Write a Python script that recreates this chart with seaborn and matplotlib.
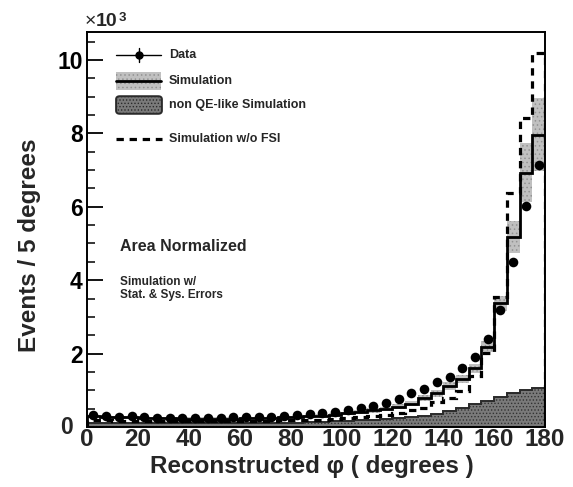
import numpy as np
import pandas as pd
import matplotlib
matplotlib.use('Agg')
import matplotlib.pyplot as plt
import seaborn as sns
from matplotlib.patches import Rectangle, FancyBboxPatch
from matplotlib.lines import Line2D
from matplotlib.ticker import MultipleLocator
from matplotlib.transforms import blended_transform_factory

# ---- data (in units of 10^3 events) ----
bin_edges = list(range(0, 185, 5))
data_vals = [0.33, 0.31, 0.27, 0.30, 0.27, 0.25, 0.25, 0.25, 0.25, 0.24, 0.24, 0.26,
             0.27, 0.28, 0.28, 0.31, 0.33, 0.35, 0.37, 0.42, 0.47, 0.52, 0.57, 0.66,
             0.77, 0.92, 1.03, 1.22, 1.35, 1.62, 1.92, 2.40, 3.19, 4.50, 6.02, 7.14]
sim_vals = [0.30, 0.28, 0.26, 0.26, 0.25, 0.24, 0.24, 0.23, 0.23, 0.23, 0.23, 0.23,
            0.24, 0.24, 0.25, 0.26, 0.27, 0.29, 0.31, 0.34, 0.37, 0.41, 0.45, 0.49,
            0.55, 0.64, 0.78, 0.92, 1.12, 1.30, 1.60, 2.19, 3.37, 5.17, 6.93, 7.96]
sim_errs = [0.03, 0.03, 0.03, 0.03, 0.03, 0.03, 0.03, 0.03, 0.03, 0.03, 0.03, 0.03,
            0.03, 0.03, 0.03, 0.03, 0.04, 0.04, 0.04, 0.04, 0.05, 0.05, 0.06, 0.06,
            0.07, 0.07, 0.08, 0.09, 0.10, 0.11, 0.12, 0.14, 0.20, 0.43, 0.80, 0.99]
nonqe_vals = [0.12, 0.11, 0.11, 0.11, 0.11, 0.11, 0.11, 0.11, 0.11, 0.11, 0.11, 0.11,
              0.11, 0.11, 0.11, 0.12, 0.12, 0.13, 0.14, 0.15, 0.17, 0.18, 0.20, 0.22,
              0.24, 0.27, 0.31, 0.36, 0.43, 0.52, 0.62, 0.72, 0.82, 0.92, 1.00, 1.06]
nofsi_vals = [0.20, 0.18, 0.17, 0.17, 0.16, 0.16, 0.16, 0.16, 0.16, 0.16, 0.16, 0.16,
              0.17, 0.17, 0.17, 0.18, 0.18, 0.19, 0.20, 0.22, 0.24, 0.27, 0.30, 0.33,
              0.38, 0.46, 0.51, 0.69, 0.80, 0.99, 1.39, 2.02, 3.53, 6.37, 8.41, 10.18]

x_ticks = [0, 20, 40, 60, 80, 100, 120, 140, 160, 180]
y_ticks = [0, 2, 4, 6, 8, 10]

edges = np.array(bin_edges, dtype=float)
centers = 0.5 * (edges[:-1] + edges[1:])
sim = np.array(sim_vals)
err = np.array(sim_errs)
df = pd.DataFrame({"phi": centers, "events": data_vals})

sns.set_theme(style="white")
plt.rcParams['font.family'] = ['Liberation Sans', 'DejaVu Sans']
plt.rcParams['font.weight'] = 'bold'
plt.rcParams['hatch.linewidth'] = 0.6

fig = plt.figure(figsize=(5.73, 4.87), dpi=100)
ax = fig.add_axes([87/573, 60/487, 458/573, 395/487])

# non QE-like simulation (dark filled)
ax.stairs(nonqe_vals, edges, fill=True, facecolor='#7a7a7a', edgecolor='#333333',
          hatch='.....', linewidth=0, zorder=1)
ax.stairs(nonqe_vals, edges, fill=False, color='#2a2a2a', linewidth=1.4, zorder=1.5)

# simulation error band
ax.stairs(sim + err, edges, baseline=sim - err, fill=True, facecolor='#c0c0c0',
          edgecolor='#939393', hatch='....', linewidth=0, zorder=2)
# simulation line
ax.stairs(sim_vals, edges, color='black', linewidth=2.0, zorder=3)
# simulation w/o FSI
ax.stairs(nofsi_vals, edges, color='black', linewidth=2.3, linestyle=(0, (2.3, 1.8)), zorder=3)

# data points
sns.scatterplot(data=df, x="phi", y="events", ax=ax, color='black', s=48,
                edgecolor='black', linewidth=0, zorder=4, legend=False)

ax.set_xlim(0, 180)
ax.set_ylim(0, 10.76)
ax.set_xlabel('')
ax.set_ylabel('')
ax.set_xticks(x_ticks)
ax.set_yticks(y_ticks)
ax.set_xticklabels([str(v) for v in x_ticks])
ax.set_yticklabels(['' if v == 0 else str(v) for v in y_ticks])
ax.xaxis.set_minor_locator(MultipleLocator(5))
ax.yaxis.set_minor_locator(MultipleLocator(0.5))
ax.tick_params(axis='y', which='major', direction='in', length=11.5, width=1.3,
               labelsize=16.5, pad=3, left=True, right=False, colors='black')
ax.tick_params(axis='y', which='minor', direction='in', length=5.8, width=1.3,
               left=True, right=False)
ax.tick_params(axis='x', which='major', direction='in', length=7.5, width=1.3,
               labelsize=17.5, pad=1, bottom=True, top=False)
ax.tick_params(axis='x', which='minor', direction='in', length=3.8, width=1.3,
               bottom=True, top=False)
for lab in ax.get_xticklabels() + ax.get_yticklabels():
    lab.set_fontweight('bold')
for sp in ax.spines.values():
    sp.set_visible(True)
    sp.set_color('black')
    sp.set_linewidth(1.4)

# y-axis "0" label, nudged left as in the reference (ROOT-style)
ax.text(-14/458, 0, '0', transform=blended_transform_factory(ax.transAxes, ax.transData),
        fontsize=16.5, fontweight='bold', ha='right', va='center')

# ---- legend drawn manually (axes fraction) ----
def fx(px):
    return (px - 87) / 458.0

def fy(py):
    return (427 - py) / 395.0

T = ax.transAxes
# Data entry
ax.add_line(Line2D([fx(116), fx(161)], [fy(55), fy(55)], color='black', lw=1.0,
                   transform=T, clip_on=False))
ax.add_line(Line2D([fx(139), fx(139)], [fy(48), fy(62)], color='black', lw=1.0,
                   transform=T, clip_on=False))
ax.add_line(Line2D([fx(139)], [fy(55)], color='black', marker='o', ms=5,
                   transform=T, clip_on=False))
# Simulation entry
ax.add_patch(Rectangle((fx(116), fy(90)), fx(161) - fx(116), fy(72) - fy(90),
                       facecolor='#c0c0c0', edgecolor='#939393', hatch='....',
                       linewidth=0, transform=T, clip_on=False))
ax.add_line(Line2D([fx(116), fx(161)], [fy(81), fy(81)], color='black', lw=2.0,
                   transform=T, clip_on=False))
# non QE entry
ax.add_patch(FancyBboxPatch((fx(117), fy(113)), fx(161) - fx(117), fy(97) - fy(113),
                            boxstyle='round,pad=0.002,rounding_size=0.008',
                            facecolor='#7a7a7a', edgecolor='#2a2a2a', hatch='.....',
                            linewidth=1.4, transform=T, clip_on=False))
# w/o FSI entry
ax.add_line(Line2D([fx(116), fx(162)], [fy(138.5), fy(138.5)], color='black', lw=2.3,
                   linestyle=(0, (2.3, 1.8)), transform=T, clip_on=False))

leg_labels = ['Data', 'Simulation', 'non QE-like Simulation', 'Simulation w/o FSI']
leg_rows = [55, 81, 105, 138.5]
for lab, row in zip(leg_labels, leg_rows):
    ax.text(fx(169), fy(row), lab, transform=T, fontsize=9, fontweight='bold',
            ha='left', va='center')

ax.text(fx(120), fy(246), 'Area Normalized', transform=T, fontsize=11.5,
        fontweight='bold', ha='left', va='center')
ax.text(fx(120), fy(282), 'Simulation w/', transform=T, fontsize=8.5,
        fontweight='bold', ha='left', va='center')
ax.text(fx(120), fy(295), 'Stat. & Sys. Errors', transform=T, fontsize=8.5,
        fontweight='bold', ha='left', va='center')

# axis titles
fig.text(30/573, 1 - 245/487, 'Events / 5 degrees', rotation=90, fontsize=17.5,
         fontweight='bold', ha='center', va='center')
fig.text(312/573, 1 - 466/487, 'Reconstructed φ ( degrees )', fontsize=17.5,
         fontweight='bold', ha='center', va='center')
# exponent  (×10^3)
fig.text(85/573, 1 - 22/487, '×', fontsize=14, fontweight='normal', ha='left',
         va='center')
t10 = fig.text(96/573, 1 - 22/487, '10', fontsize=14, fontweight='bold', ha='left',
               va='center')
ax.annotate('3', xy=(1.0, 1.0), xycoords=t10, xytext=(0.4, -3.0),
            textcoords='offset points', fontsize=9.5, fontweight='bold',
            ha='left', va='center', annotation_clip=False)

fig.savefig('out.png', dpi=100)
